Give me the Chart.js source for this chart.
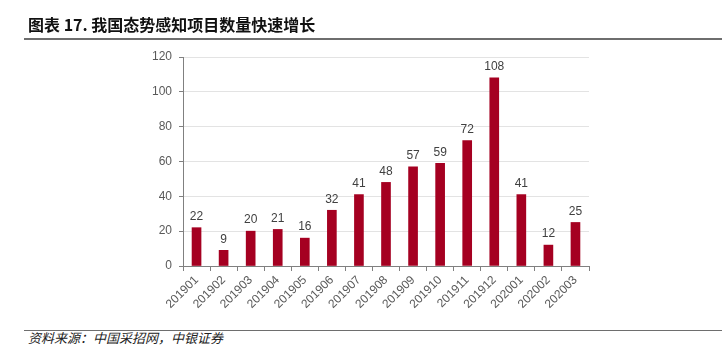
<!DOCTYPE html>
<html>
<head>
<meta charset="utf-8">
<script src="https://cdn.jsdelivr.net/npm/chart.js@4/dist/chart.umd.min.js"></script>
<style>
  html, body { margin: 0; padding: 0; background: #fff; }
  #wrap { position: relative; width: 722px; height: 350px; overflow: hidden; }
  #title {
    position: absolute; left: 28px; top: 12px;
    font: bold 16px "Noto Sans CJK SC", "Liberation Sans", sans-serif;
    color: #111; white-space: nowrap; letter-spacing: 0px;
  }
  #rule1 { position: absolute; left: 24px; top: 38px; width: 698px; height: 2px; background: #6e6e6e; }
  #rule2 { position: absolute; left: 24px; top: 330px; width: 698px; height: 1px; background: #6e6e6e; }
  #source {
    position: absolute; left: 28px; top: 328px;
    font: italic 13px "Noto Sans CJK SC", sans-serif; color: #222; white-space: nowrap;
  }
  #box { position: absolute; left: 0; top: 0; width: 722px; height: 320px; }
</style>
</head>
<body>
<div id="wrap">
  <div id="box"><canvas id="c"></canvas></div>
  <div id="title">图表 17. 我国态势感知项目数量快速增长</div>
  <div id="rule1"></div>
  <div id="rule2"></div>
  <div id="source">资料来源：中国采招网，中银证券</div>
</div>
<script>
// Monthly count of situational-awareness projects
const months = ['201901','201902','201903','201904','201905','201906','201907','201908',
                '201909','201910','201911','201912','202001','202002','202003'];
const projectCounts = [22, 9, 20, 21, 16, 32, 41, 48, 57, 59, 72, 108, 41, 12, 25];
const yTicks = [0, 20, 40, 60, 80, 100, 120];

// value labels above each bar
const valueLabels = {
  id: 'valueLabels',
  afterDatasetsDraw(chart) {
    const ctx = chart.ctx;
    const meta = chart.getDatasetMeta(0);
    ctx.save();
    ctx.font = '12px "Liberation Sans", Arial, sans-serif';
    ctx.fillStyle = '#404040';
    ctx.textAlign = 'center';
    ctx.textBaseline = 'bottom';
    meta.data.forEach((bar, i) => {
      ctx.fillText(String(chart.data.datasets[0].data[i]), bar.x, bar.y - 5);
    });
    ctx.restore();
  }
};

new Chart(document.getElementById('c'), {
  type: 'bar',
  data: {
    labels: months,
    datasets: [{
      data: projectCounts,
      backgroundColor: '#A50021',
      barThickness: 9
    }]
  },
  plugins: [valueLabels],
  options: {
    responsive: true,
    maintainAspectRatio: false,
    animation: false,
    layout: { padding: { top: 57, right: 133, left: 0, bottom: 0 } },
    plugins: { legend: { display: false }, tooltip: { enabled: false } },
    scales: {
      x: {
        grid: { offset: true, drawOnChartArea: false, drawTicks: true, tickLength: 5, color: '#808080' },
        border: { color: '#808080', width: 1 },
        ticks: {
          minRotation: 45, maxRotation: 45, padding: 2,
          color: '#595959',
          font: { family: '"Liberation Sans", Arial, sans-serif', size: 12 }
        },
        afterFit(scale) { scale.height = 54; }
      },
      y: {
        min: 0, max: 120,
        afterBuildTicks(scale) { scale.ticks = yTicks.map(v => ({ value: v })); },
        grid: { color: '#e3e3e3', tickColor: '#808080', tickLength: 4 },
        border: { color: '#808080', width: 1 },
        ticks: {
          padding: 7,
          color: '#595959',
          font: { family: '"Liberation Sans", Arial, sans-serif', size: 12 }
        },
        afterFit(scale) { scale.width = 183; }
      }
    }
  }
});
</script>
</body>
</html>
